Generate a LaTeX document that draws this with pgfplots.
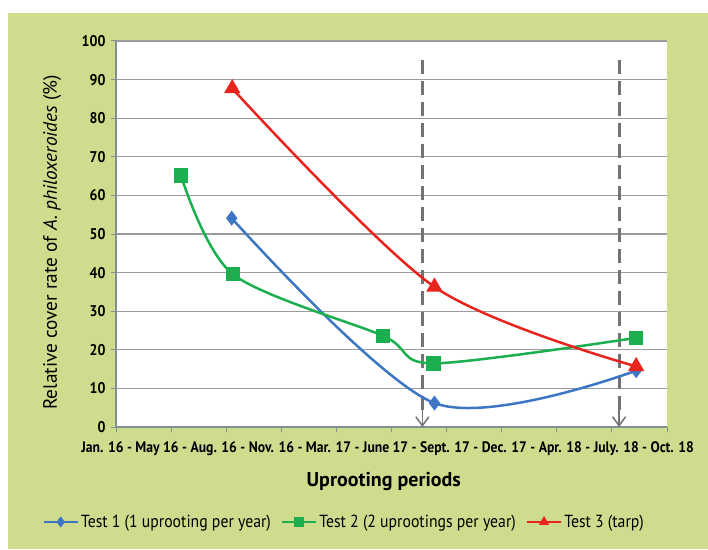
\documentclass[border=0pt]{standalone}
\usepackage{fontspec}
\setmainfont{PT Sans}
\newfontfamily\condf[FakeStretch=0.9]{PT Sans}
\usepackage{pgfplots}
\pgfplotsset{compat=1.18}
\usetikzlibrary{arrows.meta}
\definecolor{bg}{RGB}{206,220,142}
\definecolor{gridgray}{RGB}{155,155,155}
\definecolor{axgray}{RGB}{130,145,145}
\definecolor{tblue}{RGB}{60,118,196}
\definecolor{tgreen}{RGB}{28,175,80}
\definecolor{tred}{RGB}{232,36,30}
\definecolor{dgray}{RGB}{115,115,115}
\begin{document}
\begin{tikzpicture}[x=1pt,y=1pt]
\path[use as bounding box] (0,0) rectangle (708,549);
\fill[white] (0,0) rectangle (708,549);
\fill[bg] (8,0) rectangle (708,536);
\begin{axis}[
  at={(116pt,122pt)}, anchor=south west,
  scale only axis, width=551pt, height=386pt,
  xmin=0, xmax=10, ymin=0, ymax=100,
  xtick={0,...,10}, ytick={0,10,...,100},
  xticklabels={},
  /pgf/number format/assume math mode=true,
  ymajorgrids, grid style={line width=1.3pt, color=gridgray},
  axis lines*=left,
  axis line style={line width=1.3pt, color=axgray},
  tick style={line width=1pt, color=axgray},
  tick align=outside, major tick length=5pt,
  axis background/.style={fill=white},
  yticklabel style={font=\condf\bfseries\fontsize{15.5}{15.5}\selectfont, xshift=-2pt},
  ylabel={Relative cover rate of \textit{A. philoxeroides} (\%)},
  ylabel style={font=\fontsize{19.3}{19.3}\selectfont, at={(axis description cs:-0.116,0.478)}, anchor=center},
  xlabel={Uprooting periods},
  xlabel style={font=\bfseries\fontsize{20}{20}\selectfont, at={(axis description cs:0.486,-0.142)}, anchor=center},
  clip=false,
  legend columns=3,
  legend style={at={(axis description cs:0.414,-0.246)}, anchor=center, draw=none, fill=none,
    font=\condf\fontsize{17.5}{17.5}\selectfont,
    /tikz/every even column/.append style={column sep=8pt}},
  legend image code/.code={\draw[mark repeat=2,mark phase=2,#1, mark size=3.5pt] plot coordinates {(0pt,0pt) (17pt,0pt) (34pt,0pt)};},
]
\addplot[dgray, line width=3pt, dash pattern=on 14pt off 7pt, forget plot] coordinates {(5.56,95) (5.56,4)};
\addplot[dgray, line width=1.5pt, -{Straight Barb[length=9pt,width=13pt,line width=1.5pt]}, forget plot] coordinates {(5.56,7) (5.56,0)};
\addplot[dgray, line width=3pt, dash pattern=on 14pt off 7pt, forget plot] coordinates {(9.13,95) (9.13,4)};
\addplot[dgray, line width=1.5pt, -{Straight Barb[length=9pt,width=13pt,line width=1.5pt]}, forget plot] coordinates {(9.13,7) (9.13,0)};

\addplot[tblue, line width=2.5pt, smooth, mark=diamond*, mark size=5.5pt, mark options={solid}] coordinates {(2.1,54.1) (5.78,6.2) (9.44,14.6)};
\addlegendentry{Test 1 (1 uprooting per year)}
\addplot[tgreen, line width=2.5pt, smooth, mark=square*, mark size=6pt] coordinates {(1.18,65.1) (2.12,39.6) (4.85,23.6) (5.76,16.5) (9.44,23.1)};
\addlegendentry{Test 2 (2 uprootings per year)}
\addplot[tred, line width=2.5pt, smooth, mark=triangle*, mark size=7pt] coordinates {(2.11,87.7) (5.78,36.3) (9.44,15.7)};
\addlegendentry{Test 3 (tarp)}

\node[font=\condf\bfseries\fontsize{15.2}{15.2}\selectfont, anchor=base] at (axis description cs:0.493,-0.067) {Jan. 16 - May 16 - Aug. 16 - Nov. 16 - Mar. 17 - June 17 - Sept. 17 - Dec. 17 - Apr. 18 - July. 18 - Oct. 18};
\end{axis}
\end{tikzpicture}
\end{document}
